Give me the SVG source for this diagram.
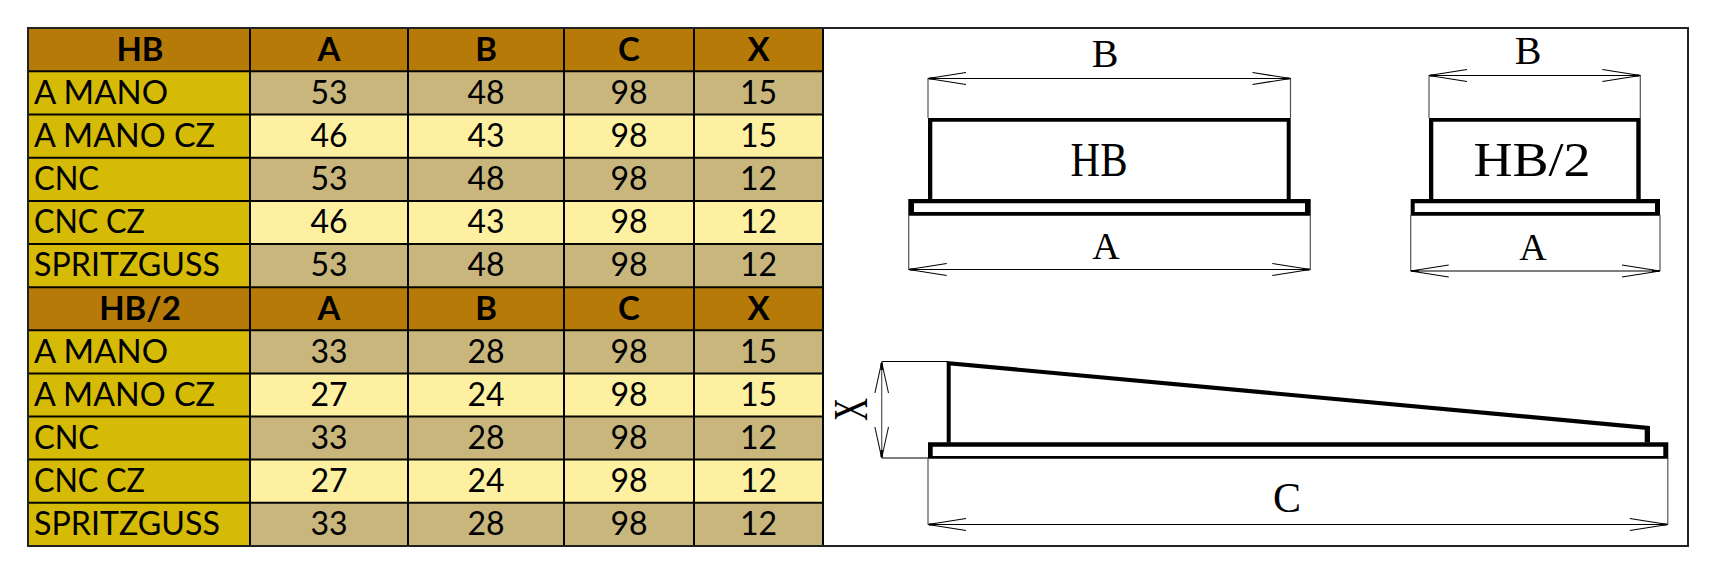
<svg xmlns="http://www.w3.org/2000/svg" width="1720" height="571" viewBox="0 0 1720 571">
<style>
.h{fill:#b67a08}.l{fill:#d5bb06}.g{fill:#c8b67c}.y{fill:#fdf0a0}
text{font-family:"Lato","Open Sans",sans-serif;fill:#000}
.t text{font-size:32px;text-anchor:middle}
.t .n{text-anchor:start}
.t .b text{font-weight:700;font-size:33px}
.grid{stroke:#050500;stroke-width:2;fill:none}
.heavy{fill:#000;fill-rule:evenodd}
.dim{stroke:#000;stroke-width:1.2;fill:none}
.ext{stroke:#555;stroke-width:1.2;fill:none}
.d text{font-family:"Liberation Serif",serif;text-anchor:middle}
</style>
<defs>
<marker id="arr" markerUnits="userSpaceOnUse" markerWidth="44" markerHeight="16" refX="40" refY="8" orient="auto-start-reverse" viewBox="0 0 44 16"><path d="M2 2L40 8L2 14" fill="none" stroke="#000" stroke-width="1.1"/><path d="M32 7H39V9H32z" fill="#000"/></marker>
<marker id="arrx" markerUnits="userSpaceOnUse" markerWidth="36" markerHeight="18" refX="32" refY="9" orient="auto-start-reverse" viewBox="0 0 36 18"><path d="M1 2.2L32 9L1 15.8" fill="none" stroke="#111" stroke-width="1.1"/><path d="M24 7.8H31V10.2H24z" fill="#000"/></marker>
</defs>
<rect width="1720" height="571" fill="#fff"/>
<g id="table-fills">
<rect class="h" x="28" y="28.5" width="795" height="43"/>
<rect class="h" x="28" y="287" width="795" height="43"/>
<rect class="l" x="28" y="71" width="222" height="216"/>
<rect class="l" x="28" y="330" width="222" height="216"/>
<rect class="g" x="250" y="71" width="573" height="43.5"/>
<rect class="y" x="250" y="114.5" width="573" height="43"/>
<rect class="g" x="250" y="157.5" width="573" height="43.5"/>
<rect class="y" x="250" y="201" width="573" height="43"/>
<rect class="g" x="250" y="244" width="573" height="43"/>
<rect class="g" x="250" y="330" width="573" height="43.5"/>
<rect class="y" x="250" y="373.5" width="573" height="43"/>
<rect class="g" x="250" y="416.5" width="573" height="43"/>
<rect class="y" x="250" y="459.5" width="573" height="43"/>
<rect class="g" x="250" y="502.5" width="573" height="43"/>
</g>
<path class="grid" d="M28 71.3H823M28 114.6H823M28 157.7H823M28 201H823M28 244H823M28 287.2H823M28 330.3H823M28 373.4H823M28 416.5H823M28 459.6H823M28 502.7H823M250 28V546M408 28V546M564 28V546M694 28V546M823 28V546"/>
<rect x="28" y="28" width="1660" height="518" fill="none" stroke="#222" stroke-width="2"/>
<g id="table-text" class="t">
<g class="b"><text x="140" y="60.5">HB</text><text x="329" y="60.5">A</text><text x="486" y="60.5">B</text><text x="629" y="60.5">C</text><text x="758.5" y="60.5">X</text></g>
<text class="n" x="34" y="103.5" textLength="134" lengthAdjust="spacingAndGlyphs">A MANO</text><text x="329" y="103.5">53</text><text x="486" y="103.5">48</text><text x="629" y="103.5">98</text><text x="758.5" y="103.5">15</text>
<text class="n" x="34" y="146.5" textLength="181" lengthAdjust="spacingAndGlyphs">A MANO CZ</text><text x="329" y="146.5">46</text><text x="486" y="146.5">43</text><text x="629" y="146.5">98</text><text x="758.5" y="146.5">15</text>
<text class="n" x="34" y="189.5" textLength="65" lengthAdjust="spacingAndGlyphs">CNC</text><text x="329" y="189.5">53</text><text x="486" y="189.5">48</text><text x="629" y="189.5">98</text><text x="758.5" y="189.5">12</text>
<text class="n" x="34" y="232.5" textLength="111" lengthAdjust="spacingAndGlyphs">CNC CZ</text><text x="329" y="232.5">46</text><text x="486" y="232.5">43</text><text x="629" y="232.5">98</text><text x="758.5" y="232.5">12</text>
<text class="n" x="34" y="275.5" textLength="186" lengthAdjust="spacingAndGlyphs">SPRITZGUSS</text><text x="329" y="275.5">53</text><text x="486" y="275.5">48</text><text x="629" y="275.5">98</text><text x="758.5" y="275.5">12</text>
<g class="b"><text x="140" y="319.5">HB/2</text><text x="329" y="319.5">A</text><text x="486" y="319.5">B</text><text x="629" y="319.5">C</text><text x="758.5" y="319.5">X</text></g>
<text class="n" x="34" y="362.5" textLength="134" lengthAdjust="spacingAndGlyphs">A MANO</text><text x="329" y="362.5">33</text><text x="486" y="362.5">28</text><text x="629" y="362.5">98</text><text x="758.5" y="362.5">15</text>
<text class="n" x="34" y="405.5" textLength="181" lengthAdjust="spacingAndGlyphs">A MANO CZ</text><text x="329" y="405.5">27</text><text x="486" y="405.5">24</text><text x="629" y="405.5">98</text><text x="758.5" y="405.5">15</text>
<text class="n" x="34" y="448.5" textLength="65" lengthAdjust="spacingAndGlyphs">CNC</text><text x="329" y="448.5">33</text><text x="486" y="448.5">28</text><text x="629" y="448.5">98</text><text x="758.5" y="448.5">12</text>
<text class="n" x="34" y="491.5" textLength="111" lengthAdjust="spacingAndGlyphs">CNC CZ</text><text x="329" y="491.5">27</text><text x="486" y="491.5">24</text><text x="629" y="491.5">98</text><text x="758.5" y="491.5">12</text>
<text class="n" x="34" y="534.5" textLength="186" lengthAdjust="spacingAndGlyphs">SPRITZGUSS</text><text x="329" y="534.5">33</text><text x="486" y="534.5">28</text><text x="629" y="534.5">98</text><text x="758.5" y="534.5">12</text>
</g>
<g id="front-hb" class="d">
<path class="heavy" d="M928 118H1290.7V199H1286.7V121.7H932.3V199H928z"/>
<path class="heavy" d="M908.3 199H1310.7V215.7H908.3zM914 203.3V212H1305V203.3z"/>
<path class="ext" d="M928 78V118M1290.5 78V118M908.7 215V269.5M1310.3 215V269.5"/>
<path class="dim" marker-start="url(#arr)" marker-end="url(#arr)" d="M928 78.5H1290.5"/>
<path class="dim" marker-start="url(#arr)" marker-end="url(#arr)" d="M908.7 269.5H1310.3"/>
<text x="1105" y="66.7" font-size="40">B</text>
<text x="1099" y="175.7" font-size="48" textLength="57" lengthAdjust="spacingAndGlyphs">HB</text>
<text x="1106" y="258.7" font-size="38">A</text>
</g>
<g id="front-hb2" class="d">
<path class="heavy" d="M1429 118H1640.7V199H1636.3V121.7H1433.3V199H1429z"/>
<path class="heavy" d="M1410.7 199H1660V215.7H1410.7zM1414.7 203.3V212H1655V203.3z"/>
<path class="ext" d="M1429 75V118M1640.3 75V118M1410.7 215V271M1660 215V271"/>
<path class="dim" marker-start="url(#arr)" marker-end="url(#arr)" d="M1429 75.5H1640.3"/>
<path class="dim" marker-start="url(#arr)" marker-end="url(#arr)" d="M1410.7 271H1660"/>
<text x="1528" y="63.7" font-size="40">B</text>
<text x="1532" y="175.7" font-size="48" textLength="117" lengthAdjust="spacingAndGlyphs">HB/2</text>
<text x="1533" y="260" font-size="38">A</text>
</g>
<g id="side-view" class="d">
<path class="heavy" d="M946.7 361L1650 426V442.5H1644.7V429.8L950.7 365.5V442.5H946.7z"/>
<path class="heavy" d="M928 442.3H1668.3V458.7H928zM932.7 446.7V456H1663.3V446.7z"/>
<path class="dim" d="M881.7 361.5H947M881.7 458H928"/>
<path class="ext" d="M928 458V524.5M1667.8 458V524.5"/>
<path class="ext" marker-start="url(#arrx)" marker-end="url(#arrx)" d="M881.7 362V458"/>
<path class="dim" marker-start="url(#arr)" marker-end="url(#arr)" d="M928 524.5H1667.8"/>
<text transform="translate(866.5 409.5) rotate(-90)" font-size="48" textLength="23" lengthAdjust="spacingAndGlyphs">X</text>
<text x="1287" y="511.7" font-size="42">C</text>
</g>
</svg>
